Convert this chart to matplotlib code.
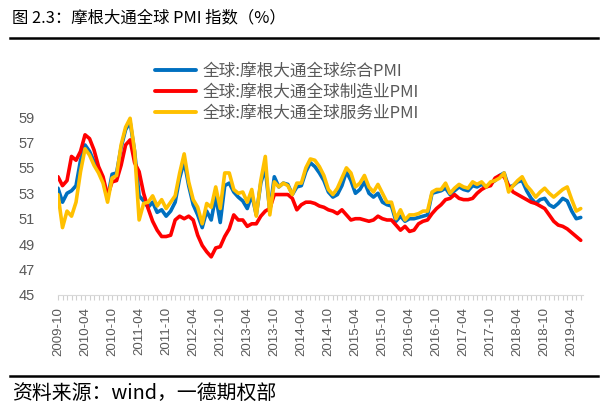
import matplotlib
matplotlib.use("Agg")
import matplotlib.pyplot as plt
import numpy as np
import pandas as pd

plt.rcParams['font.family'] = ['Noto Sans CJK SC', 'DejaVu Sans']

# ---------------- data (2009-10 .. 2019-06, monthly) ----------------
start_month = "2009-10"
composite = [53.4, 52.3, 53.0, 53.2, 53.6, 55.6, 56.8, 56.3, 55.5, 54.9,
             54.0, 52.6, 54.5, 54.6, 56.6, 58.0, 58.6, 56.3, 52.8, 52.4,
             51.9, 52.3, 51.5, 51.7, 51.2, 51.6, 52.3, 54.2, 55.5, 53.6,
             52.1, 51.3, 50.3, 51.6, 50.9, 52.8, 50.7, 53.6, 53.8, 53.1,
             52.7, 52.4, 51.8, 52.9, 51.3, 53.8, 55.0, 51.6, 54.3, 53.5,
             53.8, 53.7, 52.9, 53.5, 53.6, 54.7, 55.4, 55.1, 54.6, 54.0,
             53.1, 52.7, 52.9, 53.6, 54.7, 54.0, 53.0, 53.3, 53.9, 53.0,
             52.7, 53.0, 52.3, 52.1, 52.0, 50.8, 51.2, 50.8, 51.0, 51.0,
             51.1, 51.2, 51.3, 53.0, 53.1, 53.2, 53.4, 52.9, 53.2, 53.5,
             53.3, 53.2, 53.6, 53.5, 53.7, 53.5, 53.8, 54.0, 54.4, 54.6,
             53.5, 53.6, 53.9, 54.0, 53.2, 52.6, 52.2, 52.5, 52.6, 52.1,
             51.9, 52.2, 52.6, 52.4, 51.6, 51.0, 51.1]
manufacturing = [54.3, 53.6, 54.0, 55.9, 55.6, 56.3, 57.6, 57.3, 56.4, 55.1,
                 54.3, 52.8, 53.9, 54.0, 55.2, 56.8, 57.2, 55.4, 54.7, 53.0,
                 51.8, 50.8, 50.1, 49.6, 49.6, 49.7, 50.9, 51.2, 51.0, 51.2,
                 50.9, 49.7, 48.9, 48.4, 48.0, 48.7, 48.8, 49.6, 50.2, 51.3,
                 50.9, 50.9, 50.4, 50.6, 50.6, 51.2, 51.6, 51.8, 52.9, 52.9,
                 52.9, 52.9, 52.6, 51.7, 52.1, 52.3, 52.3, 52.2, 52.0, 51.9,
                 51.7, 51.6, 51.4, 51.7, 51.3, 50.9, 51.0, 51.0, 50.9, 50.8,
                 50.9, 51.2, 51.0, 50.9, 50.9, 50.5, 50.1, 50.4, 50.0, 50.1,
                 50.6, 50.8, 50.9, 51.4, 51.8, 52.1, 52.5, 52.6, 52.9, 52.6,
                 52.5, 52.5, 52.6, 53.0, 53.3, 53.5, 53.6, 54.2, 54.4, 54.3,
                 53.6, 53.1, 52.9, 52.7, 52.5, 52.3, 52.2, 52.0, 51.8, 51.3,
                 50.8, 50.5, 50.4, 50.2, 49.9, 49.6, 49.3]
services = [52.9, 50.3, 51.6, 51.2, 52.3, 54.7, 56.5, 56.0, 55.2, 54.6,
            53.8, 52.3, 54.2, 54.4, 56.8, 58.2, 58.9, 56.3, 50.9, 52.2,
            52.3, 52.8, 52.0, 52.5, 51.8, 52.3, 52.8, 54.6, 56.1, 53.9,
            52.5, 51.9, 50.6, 52.2, 51.9, 53.5, 51.8, 54.6, 54.6, 53.3,
            53.0, 53.1, 52.3, 53.3, 51.2, 54.0, 55.9, 51.3, 53.9, 53.5,
            53.8, 53.6, 52.9, 53.8, 53.8, 55.0, 55.7, 55.6, 55.1, 54.4,
            53.3, 52.9, 53.4, 54.2, 55.0, 54.6, 53.5, 53.8, 54.4, 53.5,
            53.1, 53.7, 53.0, 52.3, 52.3, 51.0, 51.7, 50.9, 51.3, 51.3,
            51.4, 51.6, 51.6, 53.1, 53.3, 53.3, 53.8, 53.0, 53.4, 53.7,
            53.5, 53.4, 53.9, 53.7, 53.9, 53.5, 53.9, 54.0, 54.2, 54.6,
            53.1, 53.6, 54.0, 54.3, 53.6, 53.2, 52.7, 53.1, 53.4, 53.0,
            52.7, 53.0, 53.3, 53.5, 52.5, 51.6, 51.8]
series_names = ["全球:摩根大通全球综合PMI", "全球:摩根大通全球制造业PMI", "全球:摩根大通全球服务业PMI"]
y_ticks = [45, 47, 49, 51, 53, 55, 57, 59]
title = "图 2.3：摩根大通全球 PMI 指数（%）"
source = "资料来源：wind，一德期权部"

n = len(composite)
months = pd.period_range(start_month, periods=n, freq="M")
month_labels = [str(p) for p in months]
x = np.arange(n)

# ---------------- figure ----------------
W, H = 608, 416
fig = plt.figure(figsize=(W / 100, H / 100), dpi=100)

ax_left = 58 / W
ax_right = 583 / W
ax_bottom = 1 - 295 / H
ytop = 59.4
ax_height = (ytop - 45) * 12.714 / H
ax = fig.add_axes([ax_left, ax_bottom, ax_right - ax_left, ax_height])

colors = ["#0070C0", "#FF0000", "#FFC000"]
data = [composite, manufacturing, services]
for vals, c, name in zip(data, colors, series_names):
    ax.plot(x, vals, color=c, lw=2.6, label=name, solid_joinstyle="round",
            solid_capstyle="round")

ax.set_xlim(0, n - 0.5)
ax.set_ylim(45, ytop)
ax.set_yticks(y_ticks)
ax.set_yticklabels([str(v) for v in y_ticks], family="Liberation Sans",
                   fontsize=10.5, color="#595959")
ax.tick_params(axis="y", length=0, pad=17)

major = list(range(0, n, 6))
ax.set_xticks(major)
ax.set_xticklabels([month_labels[i] for i in major], rotation=90,
                   family="Liberation Sans", fontsize=9.5, color="#595959")
ax.set_xticks(x, minor=True)
ax.tick_params(axis="x", which="both", length=3.5, width=0.8, color="#d0d0d0",
               direction="out", pad=5)

for s in ["top", "right", "left"]:
    ax.spines[s].set_visible(False)
ax.spines["bottom"].set_color("#d9d9d9")
ax.spines["bottom"].set_linewidth(0.8)

leg = fig.legend(loc="upper left", bbox_to_anchor=(148 / W, 1 - 56 / H),
                 frameon=False, fontsize=12, handlelength=2.5,
                 handletextpad=0.35, labelspacing=0.25, borderaxespad=0)
for t in leg.get_texts():
    t.set_color("#595959")
for l in leg.get_lines():
    l.set_linewidth(2.8)

fig.text(12 / W, 1 - 18 / H, title, fontsize=11.8, va="center", ha="left",
         color="black")
fig.add_artist(plt.Line2D([10 / W, 598 / W], [1 - 37.5 / H, 1 - 37.5 / H],
                          color="black", lw=1.8))
fig.add_artist(plt.Line2D([10 / W, 598 / W], [1 - 375.5 / H, 1 - 375.5 / H],
                          color="black", lw=1.8))
fig.text(12 / W, 1 - 393 / H, source, fontsize=14.3, va="center", ha="left",
         color="black")

fig.savefig("out.png", dpi=100)
